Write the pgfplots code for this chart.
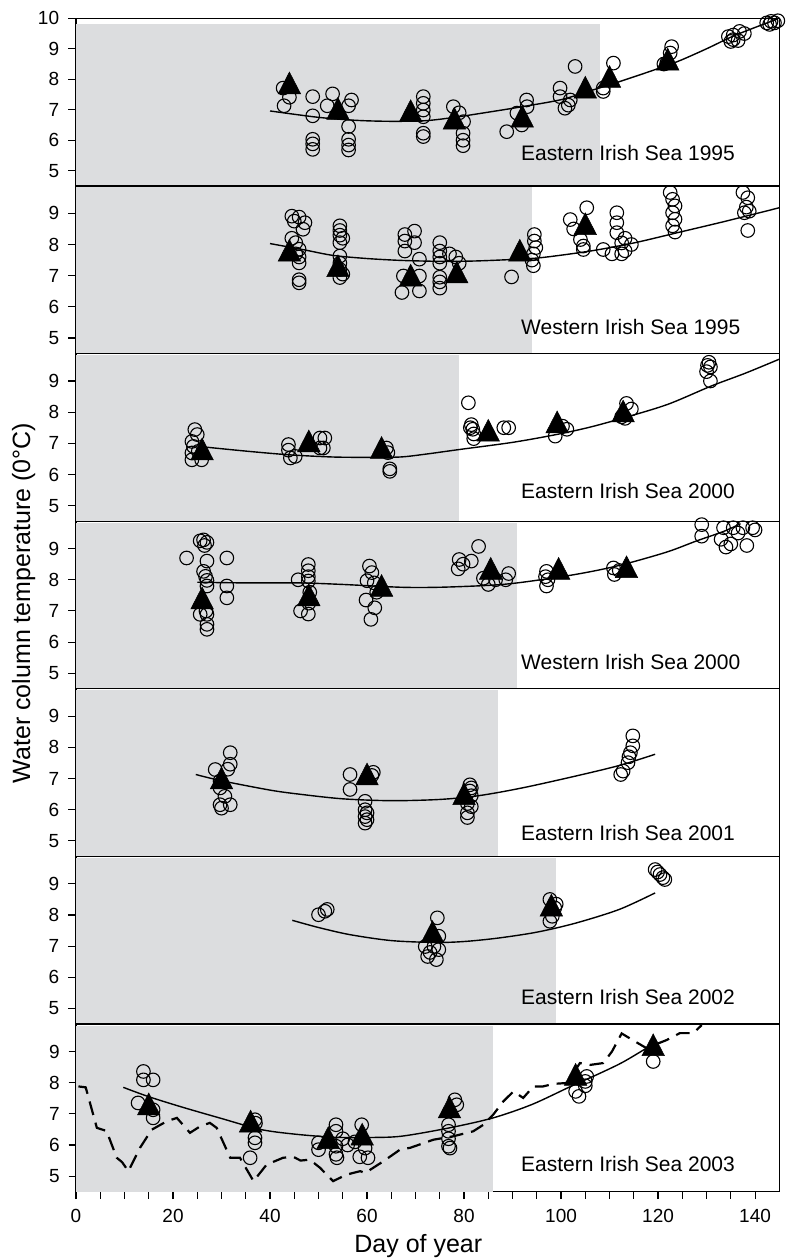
\documentclass[border=0pt]{standalone}
\usepackage{fontspec}
\setmainfont{Liberation Sans}
\usepackage{pgfplots}
\pgfplotsset{compat=1.18}
\definecolor{shade}{RGB}{220,221,223}

\pgfplotsset{
  panel/.style={
    scale only axis, width=703.3pt, height=167.63pt,
    xmin=0, xmax=145, ymin=4.5, ymax=9.88, clip=false,
    axis line style={line width=1.2pt},
    ytick={5,6,7,8,9}, ytick pos=left, ytick align=outside,
    major tick length=8pt, minor tick length=3pt,
    tick style={black, line width=1.1pt},
    xtick=\empty, minor xtick={0,4,...,144}, xtick pos=lower, xtick align=inside,
    tick label style={font=\fontsize{19}{19}\selectfont, inner sep=0pt},
    yticklabel style={xshift=-8.7pt},
    /pgf/number format/assume math mode=true,
  },
  circ/.style={only marks, mark=o, mark size=6.8pt, line width=1.1pt, black},
  tri/.style={only marks, mark=triangle*, mark size=13pt, mark options={yscale=1.12}, line width=0.5pt, black, fill=black},
  fit/.style={smooth, line width=1.4pt, black, no marks},
}
\tikzset{lab/.style={anchor=base west, font=\fontsize{21}{21}\selectfont, inner sep=0pt}}

\begin{document}
\begin{tikzpicture}
\useasboundingbox (0,0) rectangle (787pt,-1258pt);

% ---------- Eastern Irish Sea 1995
\begin{axis}[panel, at={(76pt,-18.3pt)}, anchor=north west, ymax=10, ytick={5,6,7,8,9,10}]
\addplot[fill=shade, draw=none] coordinates {(0,4.5) (108,4.5) (108,9.82) (0,9.82)} -- cycle;
\addplot[fit] coordinates {(40,6.96) (50,6.75) (58,6.65) (65,6.62) (72,6.64) (78,6.75) (85,6.92) (92,7.1) (100,7.33) (106,7.62) (112,7.92) (118,8.24) (124,8.58) (130,9.0) (136,9.45) (144.5,9.97)};
\addplot[tri] coordinates {(44,7.76) (54,6.92) (69,6.85) (78,6.6) (92,6.67) (105,7.62) (110,7.97) (122,8.54)};
\addplot[circ] coordinates {
(42.7,7.71) (44,7.41) (42.9,7.13)
(48.8,7.43) (48.8,6.8) (48.8,6.03) (48.8,5.88) (48.8,5.70)
(52.9,7.52) (51.8,7.13)
(56.8,7.32) (56.2,7.13) (56.2,6.45) (56.2,6.03) (56.2,5.84) (56.2,5.68)
(71.6,7.43) (71.6,7.21) (71.6,6.99) (71.6,6.77) (71.6,6.23) (71.6,6.12)
(77.8,7.1) (79.9,6.61) (79.8,6.23) (79.8,6.0) (79.8,5.82) (79,6.9)
(92.9,7.32) (93,7.1) (90.9,6.89) (88.8,6.28) (91.9,6.5)
(99.8,7.71) (99.8,7.43) (100.8,7.05) (101.9,7.32) (101.5,7.15) (102.9,8.42)
(108.7,7.71) (108.7,7.6) (110.8,8.53)
(122.8,9.07) (122.5,8.86) (121.8,8.53) (121.2,8.5)
(134.5,9.4) (135.5,9.3) (135,9.24) (136.8,9.57) (137.8,9.5) (135.5,9.45) (136.5,9.27)
(142.4,9.85) (143.3,9.9) (144,9.85) (144.7,9.92) (143,9.8)};
\node[lab, yshift=25.7pt] at (axis cs:91.75,4.5) {Eastern Irish Sea 1995};
\end{axis}

% ---------- Western Irish Sea 1995
\begin{axis}[panel, at={(76pt,-185.93pt)}, anchor=north west]
\addplot[fill=shade, draw=none] coordinates {(0,4.5) (94,4.5) (94,9.83) (0,9.83)} -- cycle;
\addplot[fit] coordinates {(40,8.03) (47,7.83) (53,7.65) (60,7.55) (67,7.49) (75,7.46) (82,7.47) (90,7.52) (96,7.58) (106,7.79) (115,8.05) (124,8.38) (134,8.75) (145,9.18)};
\addplot[tri] coordinates {(44,7.7) (54,7.2) (69,6.9) (78.5,7.0) (91.5,7.7) (105,8.55)};
\addplot[circ] coordinates {
(44.5,8.91) (46,8.88) (47.2,8.7) (45,8.75) (46.8,8.49) (44.5,8.2) (45.3,8.06) (46,7.85) (45.3,7.7) (46,7.6) (46,7.41) (46,6.87) (46,6.77)
(54.4,8.6) (54.4,8.45) (54.4,8.3) (55,8.2) (54.4,8.06) (54.4,7.63) (54.4,7.4) (54.4,7.2) (54.4,6.94) (55,7.05)
(67.8,8.32) (69.8,8.43) (67.8,8.11) (69.8,8.06) (67.8,7.79) (70.8,7.53) (67.5,6.99) (70.8,6.99) (67.2,6.46) (70.8,6.51)
(75,8.06) (75,7.79) (75,7.6) (75,7.4) (75,6.95) (75,6.8) (75,6.6) (77,7.7) (78.3,7.6) (79,7.4)
(89.8,6.96)
(94.5,8.32) (94.5,8.11) (94.8,7.9) (94.3,7.7) (94,7.5) (94.3,7.32)
(101.9,8.8) (102.6,8.5) (104,8.16) (104.6,7.95) (104.6,7.84) (105.3,9.18)
(108.7,7.84) (111.5,8.38) (111.5,8.7) (111.5,9.02) (112.5,7.7) (112.5,8.05) (113.2,8.2) (113.2,7.8) (114.5,8.0) (110.5,7.7)
(122.5,9.67) (123,9.45) (123.5,9.24) (123,9.02) (123.5,8.81) (123,8.6) (123.5,8.4)
(137.5,9.67) (138.5,9.5) (138.2,9.2) (137.8,9.02) (138.8,9.07) (138.5,8.45)};
\node[lab, yshift=19.3pt] at (axis cs:91.75,4.5) {Western Irish Sea 1995};
\end{axis}

% ---------- Eastern Irish Sea 2000
\begin{axis}[panel, at={(76pt,-353.56pt)}, anchor=north west]
\addplot[fill=shade, draw=none] coordinates {(0,4.5) (79,4.5) (79,9.83) (0,9.83)} -- cycle;
\addplot[fit] coordinates {(26.6,6.88) (35,6.75) (44,6.63) (53,6.56) (60,6.55) (66.8,6.56) (72,6.65) (79,6.8) (90,7.03) (99,7.28) (106,7.52) (113,7.82) (122,8.25) (131,8.84) (138,9.25) (145,9.7)};
\addplot[tri] coordinates {(26,6.7) (48,6.96) (63,6.75) (85,7.3) (99.2,7.57) (112.8,7.92)};
\addplot[circ] coordinates {
(24.5,7.44) (25,7.28) (23.9,7.06) (24.2,6.9) (23.9,6.69) (23.9,6.47) (25.9,6.47) (25.2,6.74)
(43.8,6.96) (43.8,6.78) (44.2,6.53) (45.2,6.58)
(50.3,7.17) (51.3,7.17) (50.3,6.85) (51,6.85)
(64,6.85) (64.3,6.7) (64.7,6.18) (64.7,6.1)
(80.9,8.3) (81.5,7.6) (81.8,7.45) (82,7.3) (82,7.15) (81.3,7.5)
(88.2,7.5) (89.2,7.5)
(98.8,7.23) (100.3,7.55) (101.2,7.45)
(113.5,8.28) (114.5,8.1) (112.5,7.85) (113.2,7.8)
(130.5,9.6) (130.8,9.45) (130,9.3) (130.8,9.0) (130.2,9.5)};
\node[lab, yshift=22.7pt] at (axis cs:91.75,4.5) {Eastern Irish Sea 2000};
\end{axis}

% ---------- Western Irish Sea 2000
\begin{axis}[panel, at={(76pt,-521.19pt)}, anchor=north west]
\addplot[fill=shade, draw=none] coordinates {(0,4.5) (91,4.5) (91,9.83) (0,9.83)} -- cycle;
\addplot[fit] coordinates {(25,7.92) (35,7.9) (46,7.9) (55,7.85) (67,7.76) (75,7.76) (85,7.82) (91,7.9) (101,8.12) (108,8.32) (114,8.54) (122,8.9) (128,9.25) (133.5,9.55) (137,9.8)};
\addplot[tri] coordinates {(26,7.3) (48,7.4) (63,7.7) (85.5,8.25) (99.5,8.25) (113.5,8.3)};
\addplot[circ] coordinates {
(22.8,8.7) (25.6,9.25) (26.3,9.28) (27,9.2) (26.5,9.1) (27,8.6) (26.3,8.27) (26.7,8.11) (27,7.98) (27,7.8) (25.6,6.89) (27,6.89) (27,6.57) (27,6.41) (31.1,8.7) (31.1,7.8) (31.1,7.42) (26.8,7.0)
(45.8,8.0) (47.9,8.49) (47.9,8.29) (47.9,8.1) (47.9,7.96) (46.3,7.0) (47.9,6.9) (48.2,7.6) (48,7.25)
(60.5,8.44) (61,8.23) (60,7.97) (59.8,7.35) (61.6,7.1) (60.8,6.73) (61.5,7.9) (62,7.6)
(83,9.07) (79,8.65) (79.8,8.5) (78.8,8.35) (81.5,8.6) (86.5,8.0) (88.6,8.0) (89.2,8.2) (84,8.05) (85,7.85)
(97,8.27) (97.3,8.0) (97,7.8) (96.8,8.1)
(110.8,8.38) (111,8.17) (112,8.3)
(129,9.77) (129,9.4)
(133.5,9.67) (135.5,9.67) (137.5,9.67) (139.5,9.67) (134,9.05) (135,9.15) (138.3,9.1) (140,9.6) (136.5,9.5) (133,9.3)};
\node[lab, yshift=19.3pt] at (axis cs:91.75,4.5) {Western Irish Sea 2000};
\end{axis}

% ---------- Eastern Irish Sea 2001
\begin{axis}[panel, at={(76pt,-688.82pt)}, anchor=north west]
\addplot[fill=shade, draw=none] coordinates {(0,4.5) (87,4.5) (87,9.83) (0,9.83)} -- cycle;
\addplot[fit] coordinates {(24.7,7.13) (30,6.93) (40,6.63) (46,6.5) (55,6.35) (65,6.29) (75,6.33) (83,6.45) (92,6.7) (103,7.08) (112,7.42) (119.4,7.78)};
\addplot[tri] coordinates {(30,6.9) (60,7.03) (80,6.4)};
\addplot[circ] coordinates {
(28.7,7.29) (29.7,6.92) (29.7,6.7) (30.7,6.43) (29.7,6.16) (31.8,6.16) (31.8,7.83) (31.8,7.46) (31.3,7.3) (30,6.05)
(56.5,7.13) (56.5,6.65) (59.6,6.27) (59.6,6.0) (59.6,5.78) (59.6,5.57) (61,7.1) (61.3,7.2) (60,5.68) (60,5.9)
(81.2,6.8) (81.2,6.6) (80.7,6.2) (80.7,5.9) (80.7,5.75) (81.5,6.7) (81.5,6.45) (81.5,6.1)
(114.8,8.37) (114.8,8.05) (114.3,7.83) (113.8,7.51) (112.8,7.24) (112.3,7.13) (114,7.7)};
\node[lab, yshift=15.7pt] at (axis cs:91.75,4.5) {Eastern Irish Sea 2001};
\end{axis}

% ---------- Eastern Irish Sea 2002
\begin{axis}[panel, at={(76pt,-856.45pt)}, anchor=north west]
\addplot[fill=shade, draw=none] coordinates {(0,4.5) (99,4.5) (99,9.83) (0,9.83)} -- cycle;
\addplot[fit] coordinates {(44.6,7.83) (50,7.6) (56.5,7.37) (65,7.18) (74,7.12) (80,7.15) (87,7.26) (95,7.45) (103,7.74) (112,8.18) (119.4,8.71)};
\addplot[tri] coordinates {(73.5,7.35) (98,8.2)};
\addplot[circ] coordinates {
(50,8.01) (51.8,8.18) (51.3,8.12)
(74.5,7.91) (72,6.99) (73.8,6.99) (74.8,6.89) (72.5,6.67) (74.3,6.57) (74.8,7.32) (73,6.8)
(97.7,8.5) (98.7,8.23) (98.2,7.96) (97.7,7.8) (99,8.35)
(119.4,9.46) (120.4,9.3) (121.4,9.14) (119.9,9.38) (121,9.2)};
\node[lab, yshift=20pt] at (axis cs:91.75,4.5) {Eastern Irish Sea 2002};
\end{axis}

% ---------- Eastern Irish Sea 2003 (with x axis)
\begin{axis}[panel, at={(76pt,-1024.08pt)}, anchor=north west,
  xtick={0,20,...,140}, minor x tick num=3, minor xtick={},
  xtick align=outside, major tick length=7.5pt, minor tick length=7pt,
  xticklabel style={yshift=-9.6pt}]
\addplot[fill=shade, draw=none] coordinates {(0,4.5) (86,4.5) (86,9.83) (0,9.83)} -- cycle;
\addplot[fit] coordinates {(9.75,7.85) (15,7.55) (22,7.21) (30,6.85) (38,6.5) (45,6.35) (53,6.25) (60,6.24) (67,6.28) (77,6.55) (86,6.87) (94,7.3) (102,7.88) (108,8.3) (113,8.68) (119,9.24)};
\addplot[black, line width=2.2pt, dash pattern=on 14pt off 8pt, no marks] coordinates {
(0.5,7.88) (2,7.85) (4.3,6.55) (6.3,6.45) (8.4,5.59) (9.5,5.45) (10.8,5.16) (13.2,5.91) (15.6,6.49) (18.7,6.76) (20.8,6.87) (23.5,6.39) (25.6,6.6) (27.6,6.71) (29,6.55) (31.8,5.59) (33.8,5.59) (36.6,4.84) (39.3,5.37) (42.7,5.59) (44.8,5.62) (46.3,5.5) (48.2,5.53) (50.3,5.27) (53,4.84) (55.8,5.05) (58.6,5.16) (59.6,5.1) (63.4,5.48) (66.8,5.85) (68.9,5.91) (73.7,6.17) (77.8,6.28) (81.9,6.44) (84,6.65) (86,6.97) (88.1,7.4) (90.2,7.72) (92.2,7.51) (94.3,7.88) (96.3,7.88) (98.4,7.96) (101.2,7.99) (103.9,8.63) (106,8.57) (108.7,8.63) (110.5,9.0) (112.5,9.58) (115.5,9.3) (117.6,9.11) (121.8,9.37) (124.5,9.59) (127.3,9.59) (129,9.85)};
\addplot[tri] coordinates {(15,7.2) (36,6.65) (52,6.12) (59,6.23) (77,7.1) (103,8.15) (119,9.1)};
\addplot[circ] coordinates {
(13.9,8.36) (13.9,8.09) (15.9,8.09) (12.8,7.35) (15.9,7.13) (15.9,6.87)
(36.9,6.81) (36.9,6.23) (36.9,6.07) (35.9,5.59) (37,6.7)
(50,6.07) (50,5.85) (53.6,6.65) (53.6,6.44) (53.6,5.96) (53.8,5.59) (53.6,5.7) (55,6.2) (56,6.0) (58.9,6.65) (58.5,5.62) (60.2,5.59) (59.6,5.9) (57.5,6.1)
(78.1,7.45) (78.5,7.29) (76.8,6.65) (76.8,6.44) (76.8,6.2) (76.8,5.96) (77.1,5.9)
(103,7.72) (103.7,7.56) (105,8.04) (105.3,8.2) (105,7.9)
(119,8.68)};
\node[lab, yshift=20pt] at (axis cs:91.75,4.5) {Eastern Irish Sea 2003};
\end{axis}

\node[rotate=90, anchor=base, font=\fontsize{25}{25}\selectfont, inner sep=0pt] at (30pt,-603pt) {Water column temperature (0°C)};
\node[anchor=base, font=\fontsize{25}{25}\selectfont, inner sep=0pt] at (418.3pt,-1252pt) {Day of year};
\end{tikzpicture}
\end{document}
